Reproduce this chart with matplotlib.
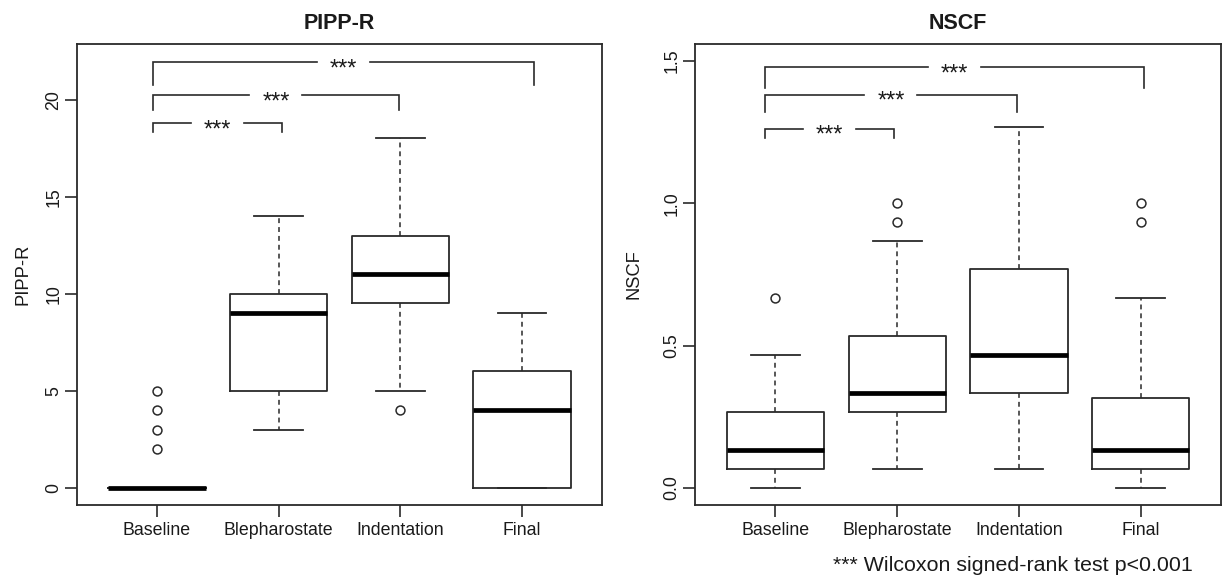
import matplotlib
matplotlib.use("Agg")
import matplotlib.pyplot as plt

plt.rcParams['font.family'] = ['Liberation Sans', 'DejaVu Sans']

# ---------------- data ----------------
groups = ["Baseline", "Blepharostate", "Indentation", "Final"]

pipp_med = [0, 9, 11, 4]
pipp_q1 = [0, 5, 9.5, 0]
pipp_q3 = [0, 10, 13, 6]
pipp_whislo = [0, 3, 5, 0]
pipp_whishi = [0, 14, 18, 9]
pipp_fliers = [[2, 3, 4, 5], [], [4], []]

nscf_med = [0.133, 0.333, 0.467, 0.133]
nscf_q1 = [0.067, 0.267, 0.333, 0.067]
nscf_q3 = [0.267, 0.533, 0.767, 0.317]
nscf_whislo = [0.0, 0.067, 0.067, 0.0]
nscf_whishi = [0.467, 0.867, 1.267, 0.667]
nscf_fliers = [[0.667], [0.933, 1.0], [], [0.933, 1.0]]

# significance brackets: left x, right x, bar height, end height
pipp_br_x1 = [0.967, 0.967, 0.967]
pipp_br_x2 = [2.027, 2.987, 4.10]
pipp_br_y = [18.81, 20.25, 21.92]
pipp_br_end = [18.33, 19.44, 20.77]

nscf_br_x1 = [0.913, 0.913, 0.913]
nscf_br_x2 = [1.974, 2.983, 4.03]
nscf_br_y = [1.262, 1.381, 1.479]
nscf_br_end = [1.230, 1.319, 1.404]

sig_label = "***"
pipp_yticks = [0, 5, 10, 15, 20]
pipp_yticklabels = ["0", "5", "10", "15", "20"]
nscf_yticks = [0.0, 0.5, 1.0, 1.5]
nscf_yticklabels = ["0.0", "0.5", "1.0", "1.5"]

# ---------------- style ----------------
LC = '#2a2a2a'
TC = '#1a1a1a'

fig = plt.figure(figsize=(12.23, 5.84), dpi=100)
ax1 = fig.add_axes([0.0627, 0.1353, 0.4299, 0.7899])
ax2 = fig.add_axes([0.5684, 0.1353, 0.4300, 0.7899])


def draw_panel(ax, title, med, q1, q3, wlo, whi, fl, ylim, yticks, yticklabels,
               bx1, bx2, by, bend, ylabel, ylabel_x):
    stats = []
    for i in range(len(groups)):
        stats.append(dict(med=med[i], q1=q1[i], q3=q3[i], whislo=wlo[i],
                          whishi=whi[i], fliers=fl[i], label=groups[i]))
    ax.bxp(stats, positions=[1, 2, 3, 4], widths=0.8, showfliers=True,
           boxprops=dict(color=LC, linewidth=1.3),
           medianprops=dict(color='black', linewidth=3.4, solid_capstyle='butt'),
           whiskerprops=dict(color=LC, linewidth=1.1, linestyle=(0, (3.2, 2.6))),
           capprops=dict(color=LC, linewidth=1.3),
           flierprops=dict(marker='o', markerfacecolor='none', markeredgecolor=LC,
                           markersize=6.4, markeredgewidth=1.1))
    rng = ylim[1] - ylim[0]
    ax.set_ylim(ylim[0] - 0.04 * rng, ylim[1] + 0.04 * rng)
    ax.set_xlim(0.34, 4.66)
    ax.set_xticks([1, 2, 3, 4])
    ax.set_xticklabels(groups, fontsize=12.8, color=TC)
    ax.set_yticks(yticks)
    ax.set_yticklabels(yticklabels, rotation=90, va='center', fontsize=12.8, color=TC)
    ax.tick_params(axis='x', length=8.4, width=1.2, color=LC, pad=4.2)
    ax.tick_params(axis='y', length=8.4, width=1.2, color=LC, pad=2.0)
    for s in ax.spines.values():
        s.set_linewidth(1.3)
        s.set_color(LC)
    ax.set_title(title, fontsize=15.5, fontweight='bold', color=TC, pad=10.4)
    ax.set_ylabel(ylabel, fontsize=13.2, color=TC)
    ax.yaxis.set_label_coords(ylabel_x, 0.5)

    gap = 0.435
    for x1, x2, y, ye in zip(bx1, bx2, by, bend):
        xm = (x1 + x2) / 2
        ax.plot([x1, x1, xm - gap / 2], [ye, y, y], color=LC, linewidth=1.2,
                solid_joinstyle='miter')
        ax.plot([xm + gap / 2, x2, x2], [y, y, ye], color=LC, linewidth=1.2,
                solid_joinstyle='miter')
        ax.annotate(sig_label, xy=(xm, y), xytext=(0, -9.6), textcoords='offset points',
                    ha='center', va='baseline', fontsize=17, color=TC)


draw_panel(ax1, "PIPP-R", pipp_med, pipp_q1, pipp_q3, pipp_whislo, pipp_whishi,
           pipp_fliers, (0, 22), pipp_yticks, pipp_yticklabels,
           pipp_br_x1, pipp_br_x2, pipp_br_y, pipp_br_end, "PIPP-R", -0.086)
draw_panel(ax2, "NSCF", nscf_med, nscf_q1, nscf_q3, nscf_whislo, nscf_whishi,
           nscf_fliers, (0, 1.5), nscf_yticks, nscf_yticklabels,
           nscf_br_x1, nscf_br_x2, nscf_br_y, nscf_br_end, "NSCF", -0.101)

fig.text(833 / 1223, 0.0228, "*** Wilcoxon signed-rank test p<0.001",
         ha='left', va='baseline', fontsize=15.4, color=TC)

fig.savefig("out.png", dpi=100)
